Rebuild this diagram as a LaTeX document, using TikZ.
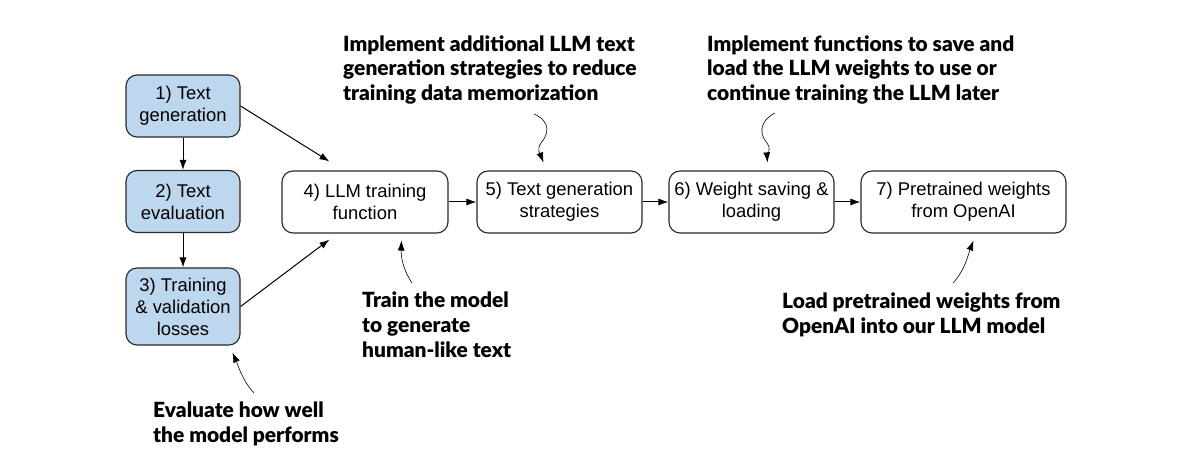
\documentclass[tikz,border=0pt]{standalone}
\usepackage{fontspec}
\setmainfont{Liberation Sans}
\newfontfamily\notefont{Lato}[BoldFont={Lato Black}]
\usetikzlibrary{arrows.meta}
\definecolor{stagefill}{RGB}{189,215,238}
\definecolor{stageline}{RGB}{40,40,40}
\tikzset{
  stagebox/.style={draw=stageline, rounded corners=11bp, line width=1.1bp,
    minimum height=62bp, align=center, inner sep=2bp,
    font=\fontsize{18.5}{22}\selectfont},
  donebox/.style={stagebox, fill=stagefill},
  note/.style={align=left, anchor=west, inner sep=0pt,
    font=\notefont\bfseries\fontsize{21}{25}\selectfont},
  flow/.style={-{Latex[length=10bp,width=7bp]}, line width=1bp},
  hint/.style={-{Latex[length=10bp,width=7bp]}, line width=0.6bp},
}
\begin{document}
\begin{tikzpicture}[x=1bp,y=-1bp]
  \useasboundingbox (0,0) rectangle (1201,467);
  % stages
  \node[donebox, minimum width=114bp] (s1) at (183,106) {1) Text\\generation};
  \node[donebox, minimum width=114bp] (s2) at (183,201.5) {2) Text\\evaluation};
  \node[donebox, minimum width=114bp, minimum height=77bp] (s3) at (183,306.5) {3) Training\\\& validation\\losses};
  \node[stagebox, minimum width=166bp] (s4) at (365,202) {4) LLM training\\function};
  \node[stagebox, minimum width=165bp] (s5) at (559.5,202) {5) Text generation\\strategies};
  \node[stagebox, minimum width=165bp] (s6) at (751.5,202) {6) Weight saving \&\\loading};
  \node[stagebox, minimum width=205bp] (s7) at (963.5,202) {7) Pretrained weights\\from OpenAI};
  % notes
  \node[note] (n5) at (343,70) {Implement additional LLM text\\generation strategies to reduce\\training data memorization};
  \node[note] (n6) at (707,70) {Implement functions to save and\\load the LLM weights to use or\\continue training the LLM later};
  \node[note] (n4) at (362,325) {Train the model\\to generate\\human-like text};
  \node[note] (n7) at (782,314.5) {Load pretrained weights from\\OpenAI into our LLM model};
  \node[note] (n3) at (153,423.5) {Evaluate how well\\the model performs};
  % flow
  \draw[flow] (s1) -- (s2);
  \draw[flow] (s2) -- (s3);
  \draw[flow] (s1.east) -- ([xshift=48bp,yshift=9bp]s4.north west);
  \draw[flow] (s3.east) -- ([xshift=48bp,yshift=-6bp]s4.south west);
  \draw[flow] (s4) -- (s5);
  \draw[flow] (s5) -- (s6);
  \draw[flow] (s6) -- (s7);
  % hints
  \coordinate (t5) at (534,114);
  \coordinate (t6) at (775,113);
  \coordinate (t4) at (412,283);
  \coordinate (t7) at (953,283);
  \coordinate (t3) at (254,393);
  \draw[hint] (t5) .. controls (552,122) and (548,135) .. (541,143)
    .. controls (536,150) and (541,156) .. ([xshift=-16bp,yshift=8bp]s5.north);
  \draw[hint] (t6) .. controls (758,122) and (760,135) .. (767,143)
    .. controls (772,150) and (767,156) .. ([xshift=16bp,yshift=8bp]s6.north);
  \draw[hint] (t4) .. controls (402,268) and (401,255) .. ([xshift=120bp,yshift=-7bp]s4.south west);
  \draw[hint] (t3) .. controls (242,380) and (238,365) .. ([xshift=107bp,yshift=-7bp]s3.south west);
  \draw[hint] (t7) .. controls (965,270) and (968,255) .. ([xshift=10bp,yshift=-7bp]s7.south);
\end{tikzpicture}
\end{document}
